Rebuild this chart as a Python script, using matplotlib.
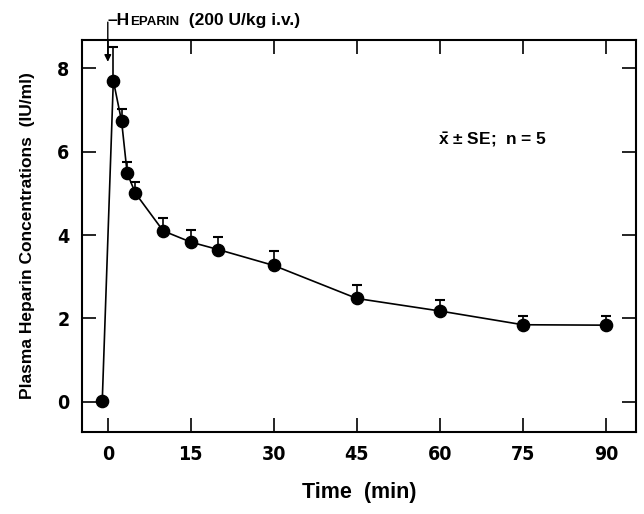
import matplotlib
matplotlib.use("Agg")
import matplotlib.pyplot as plt
from matplotlib.offsetbox import TextArea, HPacker, AnnotationBbox

# sampling times (min) and mean plasma heparin (IU/ml) with upper SE
times = [-1, 1, 2.5, 3.5, 5, 10, 15, 20, 30, 45, 60, 75, 90]
conc = [0.03, 7.7, 6.72, 5.48, 5.0, 4.1, 3.83, 3.65, 3.27, 2.48, 2.18, 1.85, 1.84]
se = [0.0, 0.8, 0.3, 0.27, 0.27, 0.3, 0.3, 0.3, 0.35, 0.33, 0.27, 0.2, 0.23]

xticks = [0, 15, 30, 45, 60, 75, 90]
yticks = [0, 2, 4, 6, 8]

plt.rcParams['font.family'] = ['Liberation Sans', 'DejaVu Sans']
plt.rcParams['mathtext.fontset'] = 'custom'
plt.rcParams['mathtext.rm'] = 'Liberation Sans:bold'
plt.rcParams['mathtext.it'] = 'Liberation Sans:bold'
plt.rcParams['mathtext.bf'] = 'Liberation Sans:bold'

fig = plt.figure(figsize=(6.44, 5.14), dpi=100)
ax = fig.add_axes([0.127, 0.1595, 0.861, 0.7625])

ax.plot(times, conc, color='black', lw=1.2, marker='o', ms=8.8, zorder=3)
ax.errorbar(times[1:], conc[1:], yerr=[[0] * len(se[1:]), se[1:]], fmt='none',
            ecolor='black', elinewidth=1.2, capsize=3.5, capthick=1.5, zorder=2)

ax.set_xlim(-4.7, 95.5)
ax.set_ylim(-0.72, 8.67)
ax.set_xticks(xticks)
ax.set_yticks(yticks)

# narrow digits on the axes
for lab in ax.get_xticklabels() + ax.get_yticklabels():
    lab.set_family('DejaVu Sans')
    lab.set_stretch('condensed')
    lab.set_fontsize(14)
    lab.set_fontweight('bold')

ax.tick_params(direction='in', length=10, width=1.2, top=True, right=True,
               pad=9)
for sp in ax.spines.values():
    sp.set_linewidth(1.5)

ax.set_xlabel('Time  (min)', fontsize=15.5, fontweight='bold', labelpad=13)
ax.set_ylabel('Plasma Heparin Concentrations  (IU/ml)', fontsize=12.5,
              fontweight='bold', labelpad=16)

ax.text(69.5, 6.28, r'$\bar{x}$ ± SE;  n = 5', fontsize=12.5, fontweight='bold',
        ha='center', va='center')

# arrow marking the heparin injection
ax.annotate('', xy=(0, 8.15), xytext=(0, 9.1), annotation_clip=False,
            arrowprops=dict(arrowstyle='-|>', color='black', lw=1.0,
                            mutation_scale=10, shrinkA=0, shrinkB=0))
label = HPacker(children=[
    TextArea('\u2013H', textprops=dict(fontsize=12.5, fontweight='bold')),
    TextArea('EPARIN', textprops=dict(fontsize=9.5, fontweight='bold')),
    TextArea('  (200 U/kg i.v.)', textprops=dict(fontsize=12.5, fontweight='bold')),
], align='baseline', pad=0, sep=0)
ab = AnnotationBbox(label, (0, 9.15), xycoords='data', box_alignment=(0, 0.5),
                    frameon=False, pad=0, annotation_clip=False)
ax.add_artist(ab)

fig.savefig('out.png', dpi=100)
